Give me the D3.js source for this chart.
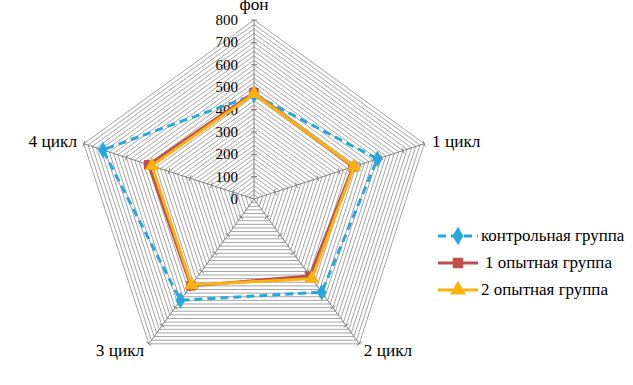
<!DOCTYPE html>
<html>
<head>
<meta charset="utf-8">
<script src="https://cdn.jsdelivr.net/npm/d3@7"></script>
<style>
  body { margin: 0; background: #fff; }
</style>
</head>
<body>
<div id="chart"></div>
<script>
// --- DATA ---
const axesLabels = ["фон", "1 цикл", "2 цикл", "3 цикл", "4 цикл"];
const controlGroup = [465, 580, 515, 560, 710];
const group1 = [475, 465, 425, 480, 495];
const group2 = [470, 470, 440, 475, 480];
const tickValues = [0, 100, 200, 300, 400, 500, 600, 700, 800];
const seriesNames = ["контрольная группа", "1 опытная группа", "2 опытная группа"];

const W = 633, H = 385;
const cx = 254, cy = 199, R = 179;
const FONT = "Liberation Serif";

const svg = d3.select("#chart").append("svg")
    .attr("width", W).attr("height", H);

const r = d3.scaleLinear().domain([0, 800]).range([0, R]);
const angle = i => (i * 2 * Math.PI) / axesLabels.length;
const pt = (i, v) => [cx + r(v) * Math.sin(angle(i)), cy - r(v) * Math.cos(angle(i))];

// --- GRID: dense concentric pentagons ---
const gridLevels = d3.range(20, 801, 20);
svg.append("g").selectAll("polygon").data(gridLevels)
    .join("polygon")
    .attr("points", v => axesLabels.map((_, i) => pt(i, v).join(",")).join(" "))
    .attr("fill", "none")
    .attr("stroke", "#9a9a9a")
    .attr("stroke-width", 0.9);

// spokes
svg.append("g").selectAll("line").data(axesLabels)
    .join("line")
    .attr("x1", cx).attr("y1", cy)
    .attr("x2", (_, i) => pt(i, 800)[0])
    .attr("y2", (_, i) => pt(i, 800)[1])
    .attr("stroke", "#808080")
    .attr("stroke-width", 1);

// small tick marks on spokes
const tickG = svg.append("g");
axesLabels.forEach((_, i) => {
    const a = angle(i);
    tickValues.slice(1).forEach(v => {
        const [x, y] = pt(i, v);
        const nx = Math.cos(a) * 3, ny = Math.sin(a) * 3;
        tickG.append("line")
            .attr("x1", x - nx).attr("y1", y - ny)
            .attr("x2", x + nx).attr("y2", y + ny)
            .attr("stroke", "#808080").attr("stroke-width", 1);
    });
});

// value labels
svg.append("g").selectAll("text").data(tickValues)
    .join("text")
    .attr("x", cx - 16)
    .attr("y", v => cy - r(v) + 5)
    .attr("text-anchor", "end")
    .attr("font-family", FONT)
    .attr("font-size", 15)
    .attr("fill", "#000")
    .text(d => d);

// category labels (slightly wide type, as in the original)
const labelPos = [
    { x: 254, y: 10, anchor: "middle" },
    { x: 432, y: 147, anchor: "start" },
    { x: 388, y: 356, anchor: "middle" },
    { x: 120, y: 356, anchor: "middle" },
    { x: 77, y: 147, anchor: "end" }
];
svg.append("g").selectAll("text").data(axesLabels)
    .join("text")
    .attr("transform", (_, i) => `translate(${labelPos[i].x},${labelPos[i].y}) scale(1.08,1)`)
    .attr("text-anchor", (_, i) => labelPos[i].anchor)
    .attr("font-family", FONT)
    .attr("font-size", 16)
    .text(d => d);

// --- SERIES ---
const series = [
    { name: seriesNames[0], values: controlGroup, color: "#25a8de", dash: "8,5", width: 3, marker: "diamond" },
    { name: seriesNames[1], values: group1, color: "#c0504d", dash: null, width: 3, marker: "square" },
    { name: seriesNames[2], values: group2, color: "#fbb20f", dash: null, width: 3, marker: "triangle" }
];

const symbolType = { diamond: d3.symbolDiamond, square: d3.symbolSquare, triangle: d3.symbolTriangle };
const symbolSize = { diamond: 80, square: 90, triangle: 90 };

const line = d3.lineRadial()
    .angle((_, i) => angle(i))
    .radius(d => r(d))
    .curve(d3.curveLinearClosed);

series.forEach(s => {
    const g = svg.append("g");
    g.append("path")
        .datum(s.values)
        .attr("transform", `translate(${cx},${cy})`)
        .attr("d", line)
        .attr("fill", "none")
        .attr("stroke", s.color)
        .attr("stroke-width", s.width)
        .attr("stroke-dasharray", s.dash)
        .attr("stroke-linejoin", "miter");
    g.selectAll("path.m").data(s.values)
        .join("path")
        .attr("class", "m")
        .attr("transform", (v, i) => `translate(${pt(i, v).join(",")})`)
        .attr("d", d3.symbol().type(symbolType[s.marker]).size(symbolSize[s.marker]))
        .attr("fill", s.color);
});

// --- LEGEND ---
const legend = svg.append("g");
const legendY = [236, 263, 290];
series.forEach((s, i) => {
    const y = legendY[i];
    legend.append("line")
        .attr("x1", 438).attr("x2", 478)
        .attr("y1", y).attr("y2", y)
        .attr("stroke", s.color)
        .attr("stroke-width", s.width)
        .attr("stroke-dasharray", s.dash);
    legend.append("path")
        .attr("transform", `translate(458,${y})`)
        .attr("d", d3.symbol().type(symbolType[s.marker]).size(symbolSize[s.marker] + 20))
        .attr("fill", s.color);
    legend.append("text")
        .attr("transform", `translate(${i === 1 ? 485 : 481},${y + 5}) scale(1.06,1)`)
        .attr("font-family", FONT)
        .attr("font-size", 16)
        .text(s.name);
});
</script>
</body>
</html>
